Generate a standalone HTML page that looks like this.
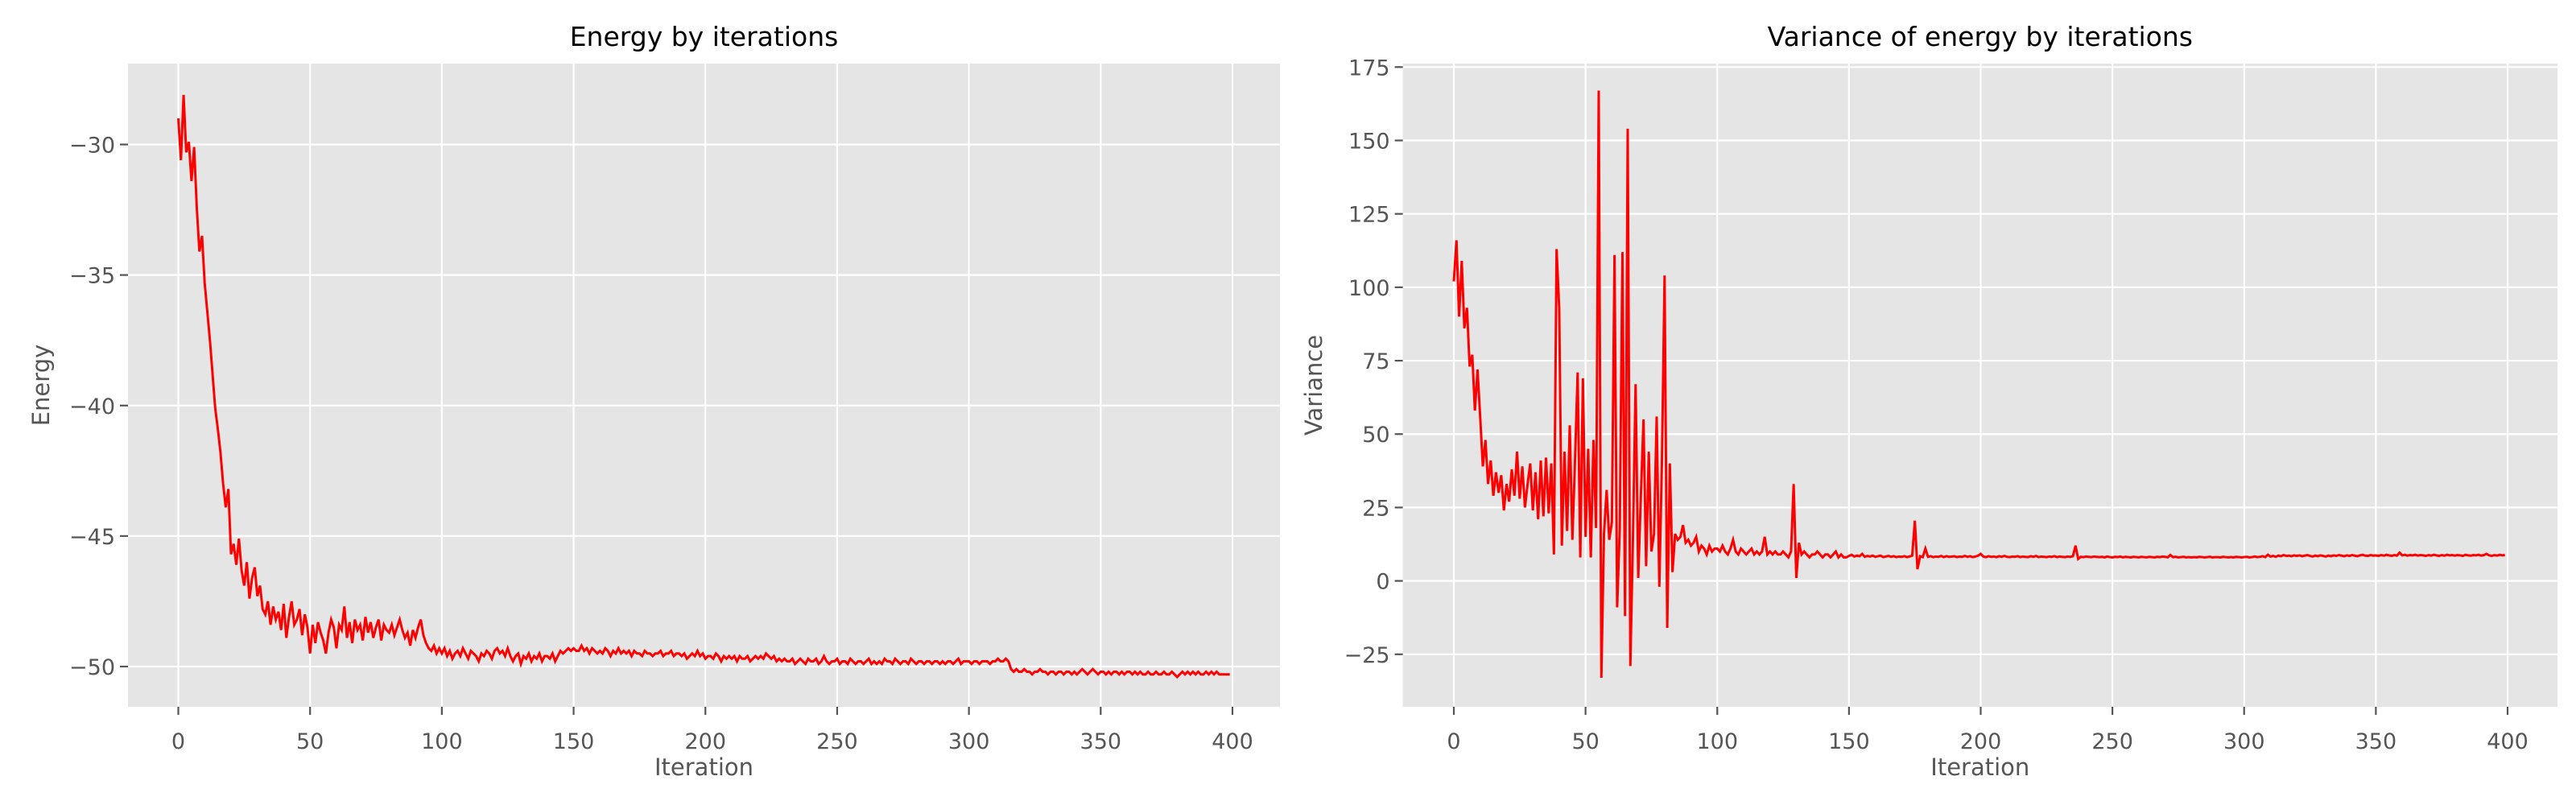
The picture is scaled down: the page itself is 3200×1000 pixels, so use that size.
<!DOCTYPE html>
<html><head><meta charset="utf-8"><style>
html,body{margin:0;padding:0;background:#fff;}
svg{display:block;font-family:"DejaVu Sans","Liberation Sans",sans-serif;}
</style></head><body>
<svg id="fig" width="3200" height="1000" viewBox="0 0 3200 1000" xmlns="http://www.w3.org/2000/svg"></svg>
<script>
const xTicks = [0,50,100,150,200,250,300,350,400];
const energyTicks = [-30,-35,-40,-45,-50];
const varianceTicks = [175,150,125,100,75,50,25,0,-25];
const energyValues = [
-29.0,-30.6,-28.1,-30.3,-29.9,-31.4,-30.1,-32.4,-34.1,-33.5,
-35.3,-36.4,-37.5,-38.8,-40.1,-40.9,-41.8,-43.0,-43.9,-43.2,
-45.7,-45.3,-46.1,-45.1,-46.3,-46.9,-46.0,-47.4,-46.6,-46.2,
-47.3,-46.9,-47.8,-48.0,-47.5,-48.4,-47.7,-48.2,-47.9,-48.6,
-47.6,-48.9,-48.1,-47.5,-48.4,-48.2,-47.8,-48.8,-48.0,-48.5,
-49.5,-48.4,-49.1,-48.3,-48.7,-49.0,-49.5,-48.7,-48.2,-48.5,
-49.3,-48.4,-48.6,-47.7,-48.9,-48.3,-49.1,-48.2,-48.6,-48.4,
-49.0,-48.1,-48.7,-48.3,-48.9,-48.5,-48.2,-49.0,-48.4,-48.6,
-48.7,-48.4,-48.8,-48.5,-48.2,-48.6,-48.9,-48.7,-49.2,-48.6,
-48.9,-48.5,-48.2,-48.8,-49.1,-49.3,-49.4,-49.2,-49.5,-49.3,
-49.5,-49.3,-49.6,-49.4,-49.7,-49.5,-49.4,-49.6,-49.3,-49.5,
-49.7,-49.4,-49.5,-49.6,-49.8,-49.5,-49.6,-49.4,-49.5,-49.7,
-49.4,-49.3,-49.5,-49.4,-49.6,-49.3,-49.6,-49.8,-49.6,-49.5,
-49.9,-49.6,-49.7,-49.5,-49.8,-49.6,-49.7,-49.5,-49.8,-49.6,
-49.6,-49.7,-49.5,-49.8,-49.6,-49.4,-49.5,-49.4,-49.3,-49.4,
-49.3,-49.4,-49.4,-49.2,-49.4,-49.3,-49.5,-49.3,-49.4,-49.5,
-49.4,-49.5,-49.3,-49.4,-49.6,-49.4,-49.5,-49.3,-49.5,-49.4,
-49.5,-49.4,-49.6,-49.4,-49.5,-49.5,-49.6,-49.4,-49.5,-49.5,
-49.6,-49.5,-49.5,-49.4,-49.6,-49.5,-49.5,-49.4,-49.6,-49.5,
-49.5,-49.6,-49.5,-49.7,-49.6,-49.5,-49.6,-49.4,-49.6,-49.5,
-49.7,-49.6,-49.6,-49.7,-49.5,-49.6,-49.8,-49.6,-49.7,-49.6,
-49.7,-49.6,-49.8,-49.6,-49.7,-49.7,-49.6,-49.8,-49.7,-49.6,
-49.7,-49.6,-49.7,-49.5,-49.6,-49.7,-49.6,-49.8,-49.7,-49.8,
-49.7,-49.8,-49.8,-49.7,-49.9,-49.8,-49.7,-49.8,-49.9,-49.7,
-49.8,-49.8,-49.7,-49.9,-49.8,-49.6,-49.8,-49.9,-49.8,-49.8,
-49.7,-49.9,-49.8,-49.8,-49.9,-49.7,-49.8,-49.9,-49.8,-49.8,
-49.9,-49.8,-49.7,-49.9,-49.8,-49.9,-49.8,-49.9,-49.7,-49.8,
-49.8,-49.9,-49.7,-49.8,-49.9,-49.8,-49.8,-49.9,-49.7,-49.8,
-49.9,-49.8,-49.8,-49.9,-49.8,-49.8,-49.9,-49.8,-49.8,-49.9,
-49.8,-49.9,-49.8,-49.8,-49.9,-49.8,-49.7,-49.9,-49.8,-49.8,
-49.8,-49.9,-49.8,-49.8,-49.9,-49.8,-49.8,-49.8,-49.9,-49.8,
-49.8,-49.7,-49.8,-49.8,-49.7,-49.8,-50.1,-50.2,-50.1,-50.2,
-50.2,-50.1,-50.2,-50.2,-50.3,-50.2,-50.2,-50.1,-50.2,-50.2,
-50.3,-50.2,-50.2,-50.3,-50.2,-50.2,-50.3,-50.2,-50.2,-50.3,
-50.2,-50.3,-50.2,-50.1,-50.2,-50.3,-50.2,-50.1,-50.2,-50.3,
-50.2,-50.2,-50.3,-50.2,-50.3,-50.2,-50.2,-50.3,-50.2,-50.3,
-50.2,-50.2,-50.3,-50.2,-50.3,-50.2,-50.3,-50.3,-50.2,-50.3,
-50.3,-50.2,-50.3,-50.3,-50.2,-50.3,-50.3,-50.2,-50.3,-50.4,
-50.3,-50.2,-50.3,-50.2,-50.3,-50.2,-50.3,-50.2,-50.3,-50.3,
-50.2,-50.3,-50.2,-50.3,-50.2,-50.3,-50.3,-50.3,-50.3,-50.3];
const varianceValues = [
102,116,90,109,86,93,73,77,58,72,
56,39,48,33,41,29,37,30,36,24,
33,27,38,29,44,28,39,25,33,40,
24,37,21,41,22,42,23,40,9,113,
93,12,44,17,53,14,41,71,8,69,
15,45,8,48,18,167,-33,16,31,14,
20,111,-9,18,112,-12,154,-29,15,67,
1,29,55,5,44,10,16,56,-2,41,
104,-16,40,3,16,14,15,19,13,14,
12,13,15,10,12,11,9,12,10,11,
11,10,12,10,9,11,14,10,9,11,
10,9,10,11,9,10,9,10,15,9,
10,9,10,9,9,10,9,8,10,33,
1,13,9,10,9,8,9,9,10,9,
8,9,9,8,9,10,8,9,8,8,
8.5,8.9,8.3,8.6,8.4,9.2,8.2,8.5,8.3,8.6,
8.2,8.4,8.6,8.1,8.3,8.5,8.2,8.4,8.1,8.3,
8.2,8.4,8.1,8.3,8.6,20.5,4.0,8.4,8.1,11.0,
8.2,8.4,8.1,8.3,8.2,8.5,8.1,8.4,8.2,8.3,
8.4,8.1,8.3,8.2,8.5,8.2,8.4,8.1,8.3,8.6,
9.2,8.3,8.1,8.4,8.2,8.3,8.1,8.4,8.2,8.5,
8.2,8.1,8.3,8.2,8.4,8.1,8.3,8.2,8.1,8.4,
8.2,8.5,8.1,8.3,8.2,8.1,8.3,8.2,8.4,8.1,
8.3,8.2,8.1,8.3,8.2,8.4,12.0,7.5,8.2,8.1,
8.3,8.2,8.1,8.3,8.2,8.1,8.2,8.0,8.3,8.1,
8.0,8.2,8.1,8.3,8.0,8.2,8.1,8.0,8.2,8.1,
8.0,8.2,8.1,8.0,8.2,8.1,8.0,8.2,8.1,8.3,
8.2,8.0,8.8,8.1,8.2,8.0,8.1,8.2,8.0,8.1,
8.0,8.1,8.0,8.2,8.1,8.0,8.1,8.2,8.0,8.1,
8.1,8.0,8.2,8.1,8.0,8.1,8.0,8.2,8.1,8.0,
8.1,8.2,8.0,8.1,8.3,8.1,8.2,8.4,8.1,8.9,
8.3,8.5,8.2,8.6,8.4,8.8,8.5,8.6,8.4,8.7,
8.5,8.7,8.4,8.6,8.8,8.5,8.3,8.6,8.4,8.7,
8.5,8.3,8.6,8.4,8.7,8.5,8.8,8.6,8.4,8.7,
8.5,8.8,8.6,8.4,8.7,8.9,8.6,8.5,8.8,8.6,
8.7,8.5,8.8,8.6,8.9,8.7,8.5,8.8,8.6,9.6,
8.7,8.9,8.6,8.8,8.7,8.9,8.6,8.8,8.7,8.5,
8.8,8.6,8.9,8.7,8.5,8.8,8.6,8.9,8.7,8.8,
8.6,8.8,8.7,8.5,8.9,8.7,8.6,8.8,8.7,8.9,
8.6,8.8,9.2,8.7,8.5,8.8,8.6,8.9,8.7,8.8];

const NS = "http://www.w3.org/2000/svg";
const fig = document.getElementById('fig');
function mk(tag, attrs, parent){const e=document.createElementNS(NS,tag);for(const k in attrs)e.setAttribute(k,attrs[k]);(parent||fig).appendChild(e);return e;}

function drawPanel(cfg){
  const g = mk('g',{});
  
  
  const {L,R,T,B} = cfg;
  const xs = v => cfg.x0px + (v - 0) * (cfg.x400px - cfg.x0px) / 400;
  const ys = v => cfg.yApx + (v - cfg.yA) * (cfg.yBpx - cfg.yApx) / (cfg.yB - cfg.yA);
  const bg = mk('rect',{x:L,y:T,width:R-L,height:B-T,fill:'#E5E5E5'},g);
  
  
  xTicks.forEach(t=>{
    const x=xs(t);
    mk('line',{x1:x,x2:x,y1:T,y2:B,stroke:'#fff','stroke-width':2.2},g);
    mk('line',{x1:x,x2:x,y1:B,y2:B+10,stroke:'#555','stroke-width':2.2},g);
    const tx=mk('text',{x:x,y:930,'font-size':27,fill:'#555','text-anchor':'middle'},g);
    tx.textContent=t;
    
    
  });
  cfg.yTicks.forEach(t=>{
    const y=ys(t);
    mk('line',{x1:L,x2:R,y1:y,y2:y,stroke:'#fff','stroke-width':2.2},g);
    mk('line',{x1:L-10,x2:L,y1:y,y2:y,stroke:'#555','stroke-width':2.2},g);
    const tx=mk('text',{x:L-16,y:y+10,'font-size':27,fill:'#555','text-anchor':'end'},g);
    tx.textContent=String(t).replace('-','\u2212');
    
    
  });
  const pts = cfg.values.map((v,i)=>xs(i).toFixed(2)+','+ys(v).toFixed(2)).join(' ');
  const line = mk('polyline',{points:pts,fill:'none',stroke:'#FF0000','stroke-width':3,'stroke-linejoin':'miter'},g);
  
  
  const title = mk('text',{x:(L+R)/2,y:57,'font-size':33,fill:'#000','text-anchor':'middle'},g);
  title.textContent = cfg.title;
  
  
  const xl = mk('text',{x:(L+R)/2,y:963,'font-size':29,fill:'#555','text-anchor':'middle'},g);
  xl.textContent='Iteration';
  
  
  const yl = mk('text',{x:0,y:0,'font-size':29,fill:'#555','text-anchor':'middle',transform:`translate(${cfg.ylx},${(T+B)/2}) rotate(-90)`},g);
  yl.textContent=cfg.ylabel;
  
  
}

drawPanel({name:'energy-chart',seriesName:'energy-line',title:'Energy by iterations',ylabel:'Energy',
  L:159,R:1590,T:79,B:878,x0px:221.5,x400px:1531,yA:-30,yApx:179.5,yB:-50,yBpx:828,
  yTicks:energyTicks,values:energyValues,ylx:61});
drawPanel({name:'variance-chart',seriesName:'variance-line',title:'Variance of energy by iterations',ylabel:'Variance',
  L:1742.6,R:3177,T:79,B:878,x0px:1806,x400px:3115,yA:175,yApx:83.3,yB:-25,yBpx:812.8,
  yTicks:varianceTicks,values:varianceValues,ylx:1642});
</script>
</body></html>
